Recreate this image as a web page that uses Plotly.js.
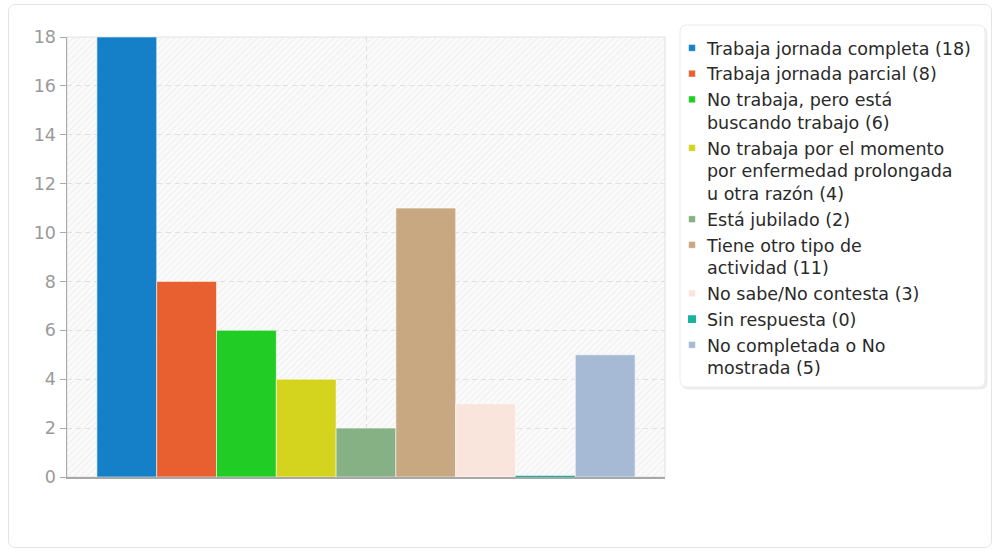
<!DOCTYPE html>
<html><head><meta charset="utf-8">
<script src="https://cdn.plot.ly/plotly-3.0.1.min.js"></script>
<style>
html,body{margin:0;padding:0;background:#fff;}
#card{position:absolute;left:8px;top:4px;width:984px;height:544px;border:1px solid #e4e4e4;border-radius:7px;box-sizing:border-box;}
#chart{position:absolute;left:0;top:0;width:995px;height:550px;}
</style></head><body>
<div id="card"></div><div id="chart"></div>
<script>
const categories = [
  "Trabaja jornada completa",
  "Trabaja jornada parcial",
  "No trabaja, pero está buscando trabajo",
  "No trabaja por el momento por enfermedad prolongada u otra razón",
  "Está jubilado",
  "Tiene otro tipo de actividad",
  "No sabe/No contesta",
  "Sin respuesta",
  "No completada o No mostrada"
];
const legendLabels = [
  "Trabaja jornada completa",
  "Trabaja jornada parcial",
  "No trabaja, pero está<br>buscando trabajo",
  "No trabaja por el momento<br>por enfermedad prolongada<br>u otra razón",
  "Está jubilado",
  "Tiene otro tipo de<br>actividad",
  "No sabe/No contesta",
  "Sin respuesta",
  "No completada o No<br>mostrada"
];
const values = [18, 8, 6, 4, 2, 11, 3, 0, 5];
const colors = ["#1580c8", "#e8602f", "#21cc25", "#d4d41e", "#86b184", "#c8a880", "#fae5dc", "#1ab3a0", "#a6bad6"];
const yTicks = [0, 2, 4, 6, 8, 10, 12, 14, 16, 18];

const traces = categories.map((c, i) => ({
  type: 'bar',
  x: [c],
  y: [values[i]],
  name: legendLabels[i] + ' (' + values[i] + ')',
  legendgroup: 'g' + i,
  width: 1,
  marker: {
    color: colors[i],
    line: values[i] === 0 ? {color: colors[i], width: 2.5} : {color: 'rgba(255,255,255,0.55)', width: 1}
  },
  hoverinfo: 'name'
}));

const hatch = "<svg xmlns='http://www.w3.org/2000/svg' width='598' height='440'><defs><pattern id='p' width='4.5' height='4.5' patternUnits='userSpaceOnUse' patternTransform='rotate(45)'><rect width='4.5' height='4.5' fill='#fafafa'/><line x1='0' y1='0' x2='0' y2='4.5' stroke='#ebebeb' stroke-width='1.4'/></pattern></defs><rect width='598' height='440' fill='url(#p)'/></svg>";

function rrect(x0, y0, x1, y1, rx, ry) {
  return `M${x0+rx},${y0} L${x1-rx},${y0} Q${x1},${y0} ${x1},${y0+ry} L${x1},${y1-ry} Q${x1},${y1} ${x1-rx},${y1} L${x0+rx},${y1} Q${x0},${y1} ${x0},${y1-ry} L${x0},${y0+ry} Q${x0},${y0} ${x0+rx},${y0} Z`;
}
const W = 598, H = 440;
const px = v => (v - 67) / W, py = v => (477 - v) / H;

const layout = {
  width: 995, height: 550,
  margin: {l: 67, r: 330, t: 37, b: 73},
  paper_bgcolor: 'rgba(0,0,0,0)', plot_bgcolor: 'rgba(0,0,0,0)',
  font: {family: 'DejaVu Sans', size: 17.5, color: '#333'},
  barmode: 'overlay', bargap: 0,
  showlegend: true,
  xaxis: {
    type: 'category', range: [-1, 9],
    tickvals: [categories[4]], showticklabels: false, ticks: '',
    showgrid: true, gridcolor: '#e0e0e0', griddash: '5px,4px', gridwidth: 1,
    showline: true, linecolor: '#a8a8a8', linewidth: 1.5,
    zeroline: false, fixedrange: true
  },
  yaxis: {
    range: [0, 18], tickvals: yTicks, ticktext: yTicks.map(String),
    ticks: 'outside', ticklen: 6, tickcolor: '#aaa', tickwidth: 1,
    tickfont: {size: 17.5, color: '#9a9a9a'},
    showline: true, linecolor: '#a8a8a8', linewidth: 1.5,
    showgrid: true, gridcolor: '#e0e0e0', griddash: '5px,4px', gridwidth: 1,
    zeroline: false, fixedrange: true
  },
  legend: {
    x: px(667), xanchor: 'left', y: py(30), yanchor: 'top',
    maxheight: 1,
    bgcolor: 'rgba(0,0,0,0)', borderwidth: 0,
    valign: 'top', tracegroupgap: 0, itemclick: false, itemdoubleclick: false,
    font: {family: 'DejaVu Sans', size: 17.5, color: '#2a2a2a'}
  },
  images: [{
    source: 'data:image/svg+xml;utf8,' + encodeURIComponent(hatch),
    xref: 'paper', yref: 'paper', x: 0, y: 1, sizex: 1, sizey: 1,
    xanchor: 'left', yanchor: 'top', sizing: 'stretch', layer: 'below'
  }],
  shapes: [
    {type: 'rect', xref: 'paper', yref: 'paper', x0: 0, x1: 1, y0: 0, y1: 1,
     line: {color: '#e2e2e2', width: 1}, layer: 'below'},
    {type: 'path', xref: 'paper', yref: 'paper', layer: 'above',
     path: rrect(px(681.5), py(389.5), px(987.5), py(26.5), 7 / W, 7 / H),
     fillcolor: 'rgba(0,0,0,0.07)', line: {width: 0}},
    {type: 'path', xref: 'paper', yref: 'paper', layer: 'above',
     path: rrect(px(680), py(387), px(985), py(25), 7 / W, 7 / H),
     fillcolor: '#ffffff', line: {color: '#ececec', width: 1}}
  ],
  hovermode: false
};

Plotly.newPlot('chart', traces, layout, {displayModeBar: false, staticPlot: true}).then(() => {
  document.querySelectorAll('#chart .legendpoints path').forEach(p => {
    p.setAttribute('transform', 'translate(25,0) scale(0.55)');
  });
});
</script>
</body></html>
